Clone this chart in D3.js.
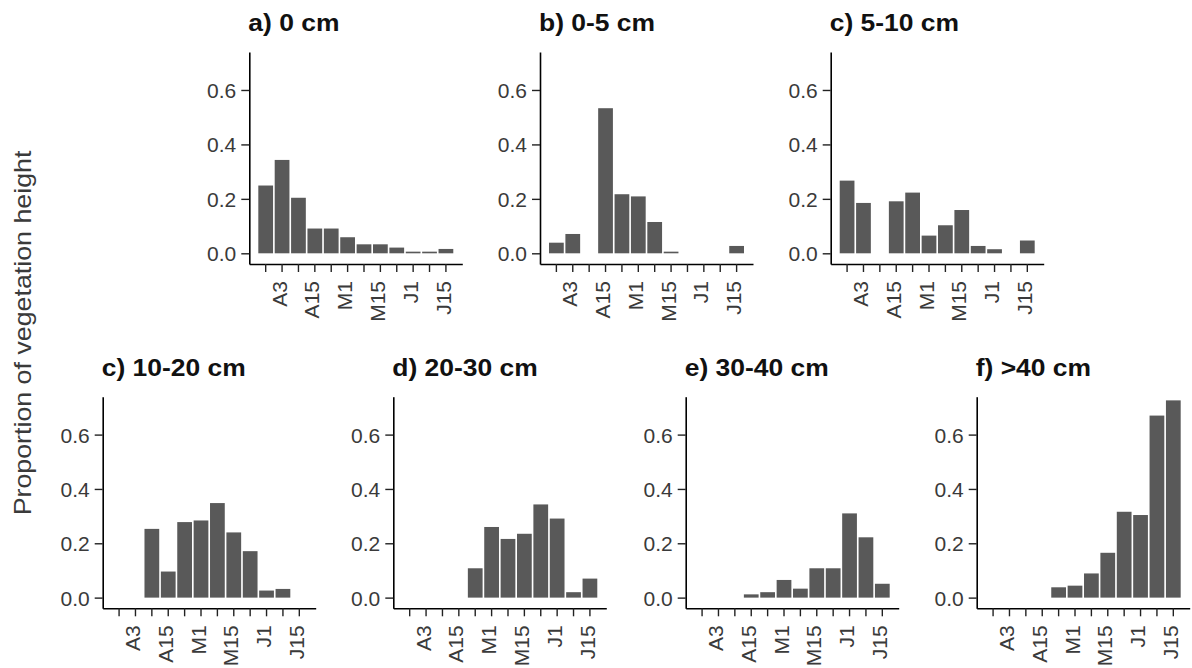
<!DOCTYPE html>
<html>
<head>
<meta charset="utf-8">
<script src="https://cdn.jsdelivr.net/npm/d3@7"></script>
<style>
  html, body { margin: 0; padding: 0; background: #ffffff; }
  svg { display: block; }
</style>
</head>
<body>
<svg id="chart" width="1192" height="668"></svg>
<script>
// ---- data ----
const categories = ["t1","t2","t3","t4","t5","t6","t7","t8","t9","t10","t11","t12"];
const tickLabels = ["", "A3", "", "A15", "", "M1", "", "M15", "", "J1", "", "J15"];
const panelTitles = ["a) 0 cm", "b) 0-5 cm", "c) 5-10 cm", "c) 10-20 cm", "d) 20-30 cm", "e) 30-40 cm", "f) >40 cm"];
const vals0cm    = [0.249, 0.343, 0.204, 0.091, 0.091, 0.059, 0.033, 0.033, 0.021, 0.006, 0.006, 0.016];
const vals0to5   = [0.039, 0.071, 0, 0.533, 0.217, 0.209, 0.115, 0.006, 0, 0, 0, 0.027];
const vals5to10  = [0.267, 0.185, 0, 0.191, 0.223, 0.065, 0.103, 0.159, 0.027, 0.015, 0, 0.047];
const vals10to20 = [0, 0, 0.253, 0.096, 0.278, 0.284, 0.348, 0.240, 0.171, 0.026, 0.032, 0];
const vals20to30 = [0, 0, 0, 0, 0.108, 0.260, 0.216, 0.235, 0.343, 0.291, 0.020, 0.070];
const vals30to40 = [0, 0, 0, 0.012, 0.020, 0.065, 0.033, 0.108, 0.108, 0.310, 0.222, 0.051];
const valsOver40 = [0, 0, 0, 0, 0.038, 0.044, 0.089, 0.165, 0.316, 0.304, 0.670, 0.726];
const yTicks = [0, 0.2, 0.4, 0.6];
const yLabel = "Proportion of vegetation height";

const series = [vals0cm, vals0to5, vals5to10, vals10to20, vals20to30, vals30to40, valsOver40];

// ---- layout ----
const svg = d3.select("#chart");
const FONT = "'Liberation Sans', Arial, sans-serif";
const panelW = 213;
const layout = [
  {x: 249.3, top: 52,    bottom: 264},
  {x: 540,   top: 52,    bottom: 264},
  {x: 830.7, top: 52,    bottom: 264},
  {x: 102.7, top: 396.7, bottom: 608.3},
  {x: 393.3, top: 396.7, bottom: 608.3},
  {x: 685.7, top: 396.7, bottom: 608.3},
  {x: 976.7, top: 396.7, bottom: 608.3}
];

const yDomain = [-0.0393, 0.7395];

series.forEach((vals, i) => {
  const L = layout[i];
  const g = svg.append("g");
  const x = d3.scaleBand().domain(categories).range([L.x, L.x + panelW])
    .paddingInner(0.1).paddingOuter(0.55);
  const y = d3.scaleLinear().domain(yDomain).range([L.bottom, L.top]);

  // bars
  g.selectAll("rect.bar").data(vals.map((v, k) => ({c: categories[k], v})))
    .join("rect")
    .attr("class", "bar")
    .attr("x", d => x(d.c))
    .attr("width", x.bandwidth())
    .attr("y", d => y(d.v))
    .attr("height", d => Math.max(0, y(0) - y(d.v)))
    .attr("fill", "#595959");

  // y axis
  const yAxis = d3.axisLeft(y).tickValues(yTicks).tickFormat(d3.format(".1f"))
    .tickSizeInner(8).tickSizeOuter(0).tickPadding(5);
  const ga = g.append("g").attr("transform", `translate(${L.x},0)`).call(yAxis);
  ga.select(".domain").attr("stroke", "#000").attr("stroke-width", 1.6);
  ga.selectAll(".tick line").attr("stroke", "#222").attr("stroke-width", 1.4);
  ga.selectAll(".tick text").attr("font-family", FONT).attr("font-size", 21)
    .attr("fill", "#3a3a3a").attr("dy", "0.36em");

  // x axis
  const xAxis = d3.axisBottom(x).tickFormat((d, k) => tickLabels[k])
    .tickSizeInner(8).tickSizeOuter(0).tickPadding(9);
  const gx = g.append("g").attr("transform", `translate(0,${L.bottom})`).call(xAxis);
  gx.select(".domain").attr("stroke", "#000").attr("stroke-width", 1.6);
  gx.selectAll(".tick line").attr("stroke", "#222").attr("stroke-width", 1.4);
  gx.selectAll(".tick text")
    .attr("font-family", FONT).attr("font-size", 21).attr("fill", "#3a3a3a")
    .attr("text-anchor", "end")
    .attr("transform", "translate(0,17) rotate(-90)")
    .attr("x", 0).attr("y", 0).attr("dy", "0.22em");

  // title
  g.append("text")
    .attr("transform", `translate(${L.x - 1},${L.top - 21}) scale(1.15,1)`)
    .attr("font-family", FONT).attr("font-weight", "bold").attr("font-size", 23)
    .attr("fill", "#111")
    .text(panelTitles[i]);
});

// y-axis label
svg.append("text")
  .attr("transform", "translate(31,333) rotate(-90) scale(1.14,1)")
  .attr("text-anchor", "middle")
  .attr("font-family", FONT).attr("font-size", 23.5).attr("fill", "#3a3a3a")
  .text(yLabel);
</script>
</body>
</html>
